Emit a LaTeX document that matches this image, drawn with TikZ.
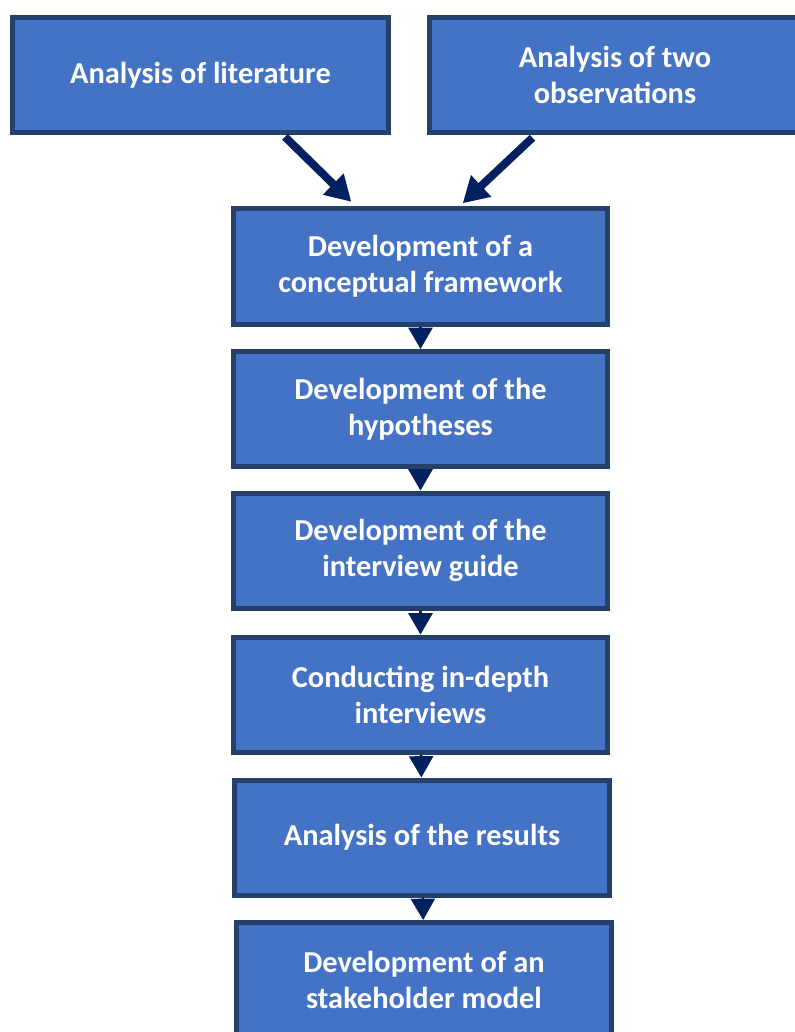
\documentclass[tikz,border=0pt]{standalone}
\usepackage{fontspec}
\setmainfont{Carlito}
\usetikzlibrary{arrows.meta}
\definecolor{box_fill}{HTML}{4472C4}
\definecolor{box_line}{HTML}{26406C}
\definecolor{arrow_blue}{HTML}{002060}

\begin{document}
\begin{tikzpicture}[x=0.75pt,y=-0.75pt,
	box_node/.style={rectangle,fill=box_fill,draw=box_line,line width=3.75pt,text=white,align=center,inner sep=0pt,minimum width=280.5pt,minimum height=86.25pt,font=\fontsize{22.8}{27}\selectfont\bfseries},
	step_arrow/.style={draw=arrow_blue,line width=2pt,-{Triangle[length=16pt,width=18pt]}},
	feed_arrow/.style={draw=arrow_blue,line width=6pt,-{Triangle[length=19pt,width=21pt]}}]

		\useasboundingbox (0,0) rectangle (795,1032);
		\clip (0,0) rectangle (795,1032);

		\node[box_node,minimum width=282pt] (lit) at (200.5,75) {Analysis of literature};
		\node[box_node,minimum width=278.25pt] (obs) at (615,75) {Analysis of two\\observations};
		\node[box_node,minimum height=87pt] (frame) at (420.5,266.5) {Development of a\\conceptual framework};
		\node[box_node] (hypo) at (420.5,409) {Development of the\\hypotheses};
		\node[box_node] (guide) at (420.5,550.5) {Development of the\\interview guide};
		\node[box_node] (inter) at (420.5,694.5) {Conducting in-depth\\interviews};
		\node[box_node,minimum width=281.25pt] (res) at (422,837.5) {Analysis of the results};
		\node[box_node,minimum width=281.25pt] (model) at (424,980) {Development of an\\stakeholder model};


		\draw[feed_arrow,shorten <=2pt,shorten >=4.5pt] (lit.-36) -- (frame.137);
		\draw[feed_arrow,shorten <=3pt,shorten >=3pt] (obs.217) -- (frame.57);
		\draw[step_arrow] (frame) -- (hypo);
		\draw[step_arrow] (hypo) -- (guide);
		\draw[step_arrow] (guide) -- (inter);
		\draw[step_arrow] (inter) -- (res);
		\draw[step_arrow] (res) -- (model);
		\end{tikzpicture}
\end{document}
